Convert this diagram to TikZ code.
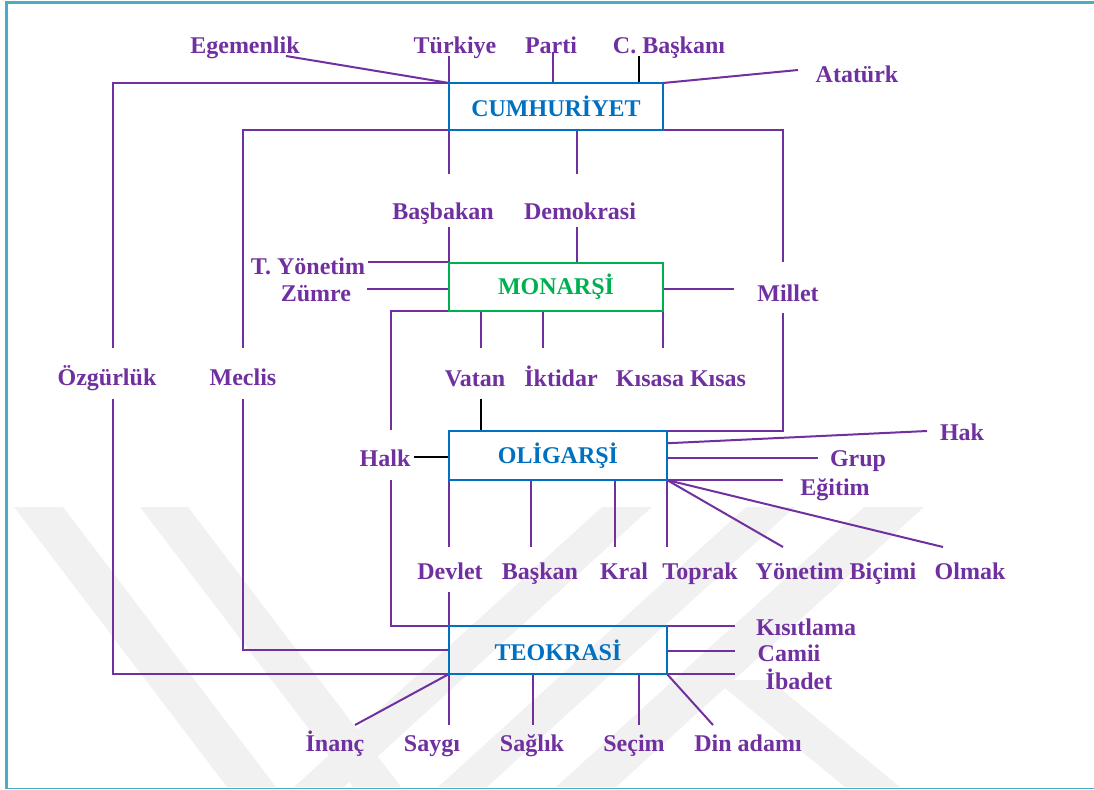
\documentclass[tikz,border=0pt]{standalone}
\usepackage{fontspec}
\setmainfont{Liberation Serif}
\usetikzlibrary{calc}
\definecolor{pur}{HTML}{7030A0}
\definecolor{bl}{HTML}{0070C0}
\definecolor{gr}{HTML}{00B050}
\definecolor{frm}{HTML}{4BACC6}
\definecolor{wm}{HTML}{F1F1F1}
\pgfdeclarelayer{wmlayer}
\pgfdeclarelayer{linelayer}
\pgfsetlayers{wmlayer,linelayer,main}
\begin{document}
\begin{tikzpicture}[x=0.75pt,y=-0.75pt,
  lbl/.style={text=pur,font=\fontsize{18}{20}\selectfont\bfseries,inner sep=0pt,anchor=base},
  box/.style={draw=bl,line width=1.5pt,inner sep=0pt,outer sep=0pt,text=bl,
    font=\fontsize{18}{20}\selectfont\bfseries,minimum width=160.5pt,minimum height=35.25pt},
  ln/.style={draw=pur,line width=1.5pt},
  bk/.style={draw=black,line width=1.5pt},
  band/.style={fill=wm,draw=none}]
\useasboundingbox (0,0) rectangle (1094,789);

% boxes
\node[box] (cum) at (556,106.5) {CUMHUR\.IYET};
\node[box,draw=gr,text=gr,minimum height=36pt] (mon) at (556,287) {MONARŞ\.I};
\node[box,minimum width=163.5pt,minimum height=36.75pt] (olig) at (558,455.5) {OL\.IGARŞ\.I};
\node[box,minimum width=163.5pt,minimum height=36pt] (teo) at (558,650) {TEOKRAS\.I};

% labels
\node[lbl] (egem) at (245,53) {Egemenlik};
\node[lbl] (turk) at (455,53) {Türkiye};
\node[lbl] (part) at (551,53) {Parti};
\node[lbl] (cbas) at (669,53) {C. Başkanı};
\node[lbl] (atat) at (857,82) {Atatürk};
\node[lbl] (basb) at (443,219) {Başbakan};
\node[lbl] (demo) at (580,219) {Demokrasi};
\node[lbl] (tyon) at (308,274) {T. Yönetim};
\node[lbl] (zumr) at (316,301) {Zümre};
\node[lbl] (mill) at (788,301) {Millet};
\node[lbl] (ozgu) at (107,385) {Özgürlük};
\node[lbl] (mecl) at (243,385) {Meclis};
\node[lbl] (vata) at (475,386) {Vatan};
\node[lbl] (ikti) at (561,386) {\.Iktidar};
\node[lbl] (kisa) at (681,386) {Kısasa Kısas};
\node[lbl] (hak) at (962,440) {Hak};
\node[lbl] (halk) at (385,466) {Halk};
\node[lbl] (grup) at (858,466) {Grup};
\node[lbl] (egit) at (835,495) {Eğitim};
\node[lbl] (devl) at (450,579) {Devlet};
\node[lbl] (bask) at (540,579) {Başkan};
\node[lbl] (kral) at (624,579) {Kral};
\node[lbl] (topr) at (700,579) {Toprak};
\node[lbl] (yone) at (836,579) {Yönetim Biçimi};
\node[lbl] (olma) at (970,579) {Olmak};
\node[lbl] (kisi) at (806,635) {Kısıtlama};
\node[lbl] (cami) at (789,661) {Camii};
\node[lbl] (ibad) at (799,689) {\.Ibadet};
\node[lbl] (inan) at (335,751) {\.Inanç};
\node[lbl] (sayg) at (432,751) {Saygı};
\node[lbl] (sagl) at (532,751) {Sağlık};
\node[lbl] (seci) at (634,751) {Seçim};
\node[lbl] (dina) at (748,751) {Din adamı};

% free ends of connectors
\coordinate (egL) at (286,56);
\coordinate (tuL) at (449,56);
\coordinate (paL) at (553,52);
\coordinate (cbL) at (639,56);
\coordinate (atL) at (798,70);
\coordinate (ozT) at (113,348);
\coordinate (ozB) at (113,399);
\coordinate (meT) at (243,348);
\coordinate (meB) at (243,399);
\coordinate (bbT) at (449,174);
\coordinate (bbB) at (449,227);
\coordinate (dmT) at (577,174);
\coordinate (dmB) at (577,227);
\coordinate (miT) at (783,262);
\coordinate (miB) at (783,313);
\coordinate (miL) at (734,289);
\coordinate (tyL) at (368,262);
\coordinate (zuL) at (367,289);
\coordinate (haT) at (391,430);
\coordinate (haB) at (391,480);
\coordinate (vaT) at (481,348);
\coordinate (ikT) at (543,348);
\coordinate (ksT) at (663,348);
\coordinate (vaB) at (481,399);
\coordinate (hkR) at (414,457);
\coordinate (hakL) at (927,431);
\coordinate (grL) at (818,458);
\coordinate (egtL) at (783,480);
\coordinate (ybL) at (783,547);
\coordinate (olL) at (943,547);
\coordinate (dvT) at (449,547);
\coordinate (bsT) at (531,547);
\coordinate (krT) at (615,547);
\coordinate (tpT) at (667,547);
\coordinate (dvB) at (449,592);
\coordinate (kiL) at (735,626);
\coordinate (caL) at (735,651);
\coordinate (ibL) at (735,674);
\coordinate (inL) at (355,725);
\coordinate (saL) at (449,725);
\coordinate (sgL) at (533,725);
\coordinate (seL) at (639,725);
\coordinate (diL) at (713,725);

\begin{pgfonlayer}{wmlayer}
  \fill[band] (14,507) -- (63,507) -- (276,787) -- (227,787) -- cycle;
  \fill[band] (140,507) -- (188,507) -- (401,787) -- (353,787) -- cycle;
  \fill[band] (602,507) -- (652,507) -- (344,787) -- (294,787) -- cycle;
  \fill[band] (746,507) -- (795,507) -- (487,787) -- (438,787) -- cycle;
  \fill[band] (864,507) -- (924,507) -- (616,787) -- (556,787) -- cycle;
  \fill[band] (715,680) -- (770,680) -- (900,787) -- (845,787) -- cycle;
\end{pgfonlayer}

\begin{pgfonlayer}{linelayer}
  % CUMHURIYET top
  \draw[ln] (egL) -- (cum.north west);
  \draw[ln] (tuL) -- (cum.north west);
  \draw[ln] (paL) -- (paL |- cum.north);
  \draw[bk] (cbL) -- (cbL |- cum.north);
  \draw[ln] (atL) -- (cum.north east);
  % long left lines
  \draw[ln] (cum.north west) -| (ozT);
  \draw[ln] (ozB) |- (teo.south west);
  \draw[ln] (cum.south west) -| (meT);
  \draw[ln] (meB) |- (teo.west);
  % CUMHURIYET bottom
  \draw[ln] (cum.south west) -- (bbT);
  \draw[ln] (dmT |- cum.south) -- (dmT);
  \draw[ln] (cum.south east) -| (miT);
  % MONARSI
  \draw[ln] (bbB) -- (mon.north west);
  \draw[ln] (dmB) -- (dmB |- mon.north);
  \draw[ln] (tyL) -- (tyL -| mon.west);
  \draw[ln] (zuL) -- (zuL -| mon.west);
  \draw[ln] (miL -| mon.east) -- (miL);
  \draw[ln] (miB) |- (olig.north east);
  \draw[ln] (mon.south west) -| (haT);
  \draw[ln] (haB) |- (teo.north west);
  \draw[ln] (vaT |- mon.south) -- (vaT);
  \draw[ln] (ikT |- mon.south) -- (ikT);
  \draw[ln] (mon.south east) -- (ksT);
  % OLIGARSI
  \draw[bk] (vaB) -- (vaB |- olig.north);
  \draw[bk] (hkR) -- (hkR -| olig.west);
  \draw[ln] ($(olig.north east)!0.25!(olig.south east)$) -- (hakL);
  \draw[ln] (grL -| olig.east) -- (grL);
  \draw[ln] (olig.south east) -- (egtL);
  \draw[ln] (olig.south east) -- (ybL);
  \draw[ln] (olig.south east) -- (olL);
  \draw[ln] (olig.south west) -- (dvT);
  \draw[ln] (bsT |- olig.south) -- (bsT);
  \draw[ln] (krT |- olig.south) -- (krT);
  \draw[ln] (olig.south east) -- (tpT);
  % TEOKRASI
  \draw[ln] (dvB) -- (teo.north west);
  \draw[ln] (teo.north east) -- (kiL);
  \draw[ln] (caL -| teo.east) -- (caL);
  \draw[ln] (teo.south east) -- (ibL);
  \draw[ln] (teo.south west) -- (inL);
  \draw[ln] (teo.south west) -- (saL);
  \draw[ln] (sgL |- teo.south) -- (sgL);
  \draw[ln] (seL |- teo.south) -- (seL);
  \draw[ln] (teo.south east) -- (diL);
\end{pgfonlayer}

% page frame
\draw[frm,line width=2.25pt] (6.5,789) -- (6.5,2.5) -- (1094,2.5);
\draw[frm,line width=1.2pt] (6.5,788.3) -- (1094,788.3);
\end{tikzpicture}
\end{document}
